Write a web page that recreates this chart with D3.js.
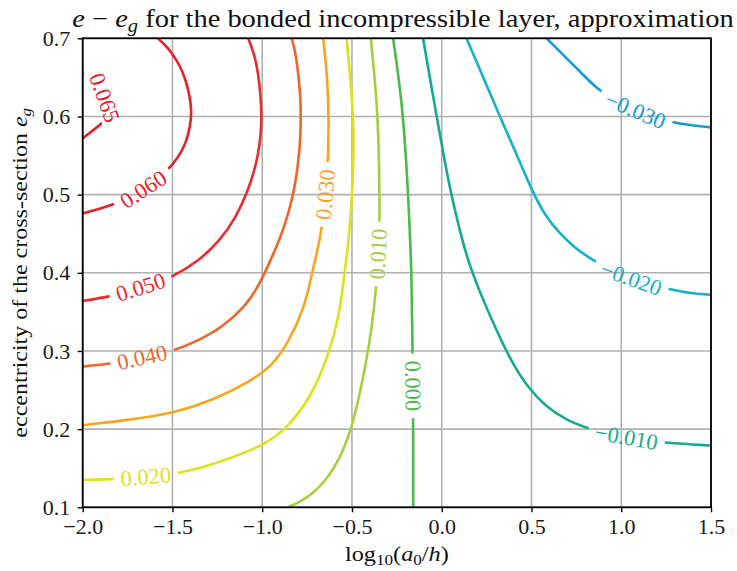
<!DOCTYPE html>
<html>
<head>
<meta charset="utf-8">
<script src="https://cdn.jsdelivr.net/npm/d3@7"></script>
<style>
  body { margin: 0; background: #fff; }
  svg { display: block; }
  text { font-family: "Liberation Serif", "DejaVu Serif", serif; }
</style>
</head>
<body>
<svg id="chart" width="737" height="571"></svg>
<script>
// Axis ticks
const xTicks = [-2.0, -1.5, -1.0, -0.5, 0.0, 0.5, 1.0, 1.5];
const yTicks = [0.1, 0.2, 0.3, 0.4, 0.5, 0.6, 0.7];

// Contour levels of e - e_g and their colours
const levels = [0.065, 0.060, 0.050, 0.040, 0.030, 0.020, 0.010, 0.000, -0.010, -0.020, -0.030];
const levelColors = ["#e31c1f", "#e8202a", "#ec2b2d", "#f0652a", "#f7a51f", "#dfe01c",
                     "#a5cf3d", "#4cba4a", "#14aa8e", "#14b1cb", "#0f9bd9"];

// Iso-lines as [log10(a0/h), e_g] points
const c065 = [[-2.0,0.657],[-1.948,0.649],[-1.909,0.639],[-1.876,0.624],[-1.859,0.608],[-1.870,0.598],
              [-1.898,0.590],[-1.928,0.585],[-1.965,0.578],[-2.0,0.572]];
const c060 = [[-1.581,0.700],[-1.525,0.688],[-1.477,0.672],[-1.444,0.658],[-1.421,0.642],[-1.404,0.626],
              [-1.393,0.608],[-1.400,0.589],[-1.419,0.570],[-1.453,0.553],[-1.500,0.538],[-1.558,0.525],
              [-1.625,0.512],[-1.698,0.501],[-1.770,0.493],[-1.837,0.487],[-1.915,0.481],[-2.0,0.476]];
const c050 = [[-1.078,0.700],[-1.043,0.679],[-1.022,0.655],[-1.009,0.627],[-1.003,0.600],[-1.008,0.576],
              [-1.022,0.552],[-1.046,0.529],[-1.078,0.506],[-1.145,0.471],[-1.240,0.440],[-1.360,0.414],
              [-1.504,0.394],[-1.625,0.385],[-1.737,0.377],[-1.839,0.370],[-2.0,0.364]];
const c040 = [[-0.836,0.700],[-0.812,0.679],[-0.800,0.655],[-0.787,0.627],[-0.785,0.600],[-0.787,0.570],
              [-0.800,0.540],[-0.815,0.515],[-0.839,0.489],[-0.869,0.465],[-0.904,0.442],[-0.967,0.409],
              [-1.030,0.379],[-1.096,0.357],[-1.217,0.331],[-1.365,0.312],[-1.496,0.300],[-1.625,0.294],
              [-1.737,0.288],[-1.839,0.284],[-2.0,0.280]];
const c030 = [[-0.660,0.700],[-0.636,0.647],[-0.629,0.600],[-0.633,0.542],[-0.645,0.500],[-0.666,0.459],
              [-0.693,0.428],[-0.725,0.397],[-0.762,0.357],[-0.855,0.310],[-0.948,0.280],[-1.068,0.261],
              [-1.273,0.237],[-1.496,0.220],[-1.737,0.212],[-2.0,0.205]];
const c020 = [[-0.530,0.700],[-0.499,0.625],[-0.488,0.570],[-0.499,0.497],[-0.521,0.434],[-0.540,0.404],
              [-0.567,0.348],[-0.633,0.293],[-0.725,0.242],[-0.868,0.199],[-0.999,0.179],[-1.161,0.164],
              [-1.319,0.152],[-1.458,0.144],[-1.625,0.139],[-1.820,0.136],[-2.0,0.135]];
const c010 = [[-0.395,0.700],[-0.363,0.625],[-0.350,0.561],[-0.345,0.465],[-0.353,0.423],[-0.364,0.382],
              [-0.391,0.327],[-0.428,0.276],[-0.499,0.199],[-0.595,0.148],[-0.725,0.114],[-0.855,0.100]];
const c000 = [[-0.271,0.700],[-0.224,0.625],[-0.196,0.540],[-0.178,0.455],[-0.168,0.397],[-0.164,0.327],
              [-0.161,0.255],[-0.159,0.212],[-0.159,0.100]];
const cm010 = [[-0.104,0.700],[-0.066,0.649],[-0.027,0.599],[0.012,0.548],[0.053,0.500],[0.098,0.457],
               [0.138,0.421],[0.207,0.378],[0.286,0.336],[0.374,0.292],[0.479,0.253],[0.580,0.229],
               [0.697,0.211],[0.825,0.200],[0.992,0.190],[1.252,0.182],[1.5,0.179]];
const cm020 = [[0.138,0.700],[0.229,0.651],[0.324,0.600],[0.418,0.551],[0.509,0.502],[0.574,0.474],
               [0.658,0.450],[0.741,0.432],[0.834,0.417],[1.019,0.393],[1.261,0.379],[1.381,0.374],[1.5,0.372]];
const cm030 = [[0.584,0.700],[0.655,0.684],[0.724,0.668],[0.794,0.652],[0.862,0.636],[0.963,0.620],
               [1.103,0.604],[1.288,0.592],[1.381,0.589],[1.5,0.586]];
const levelLines = [c065, c060, c050, c040, c030, c020, c010, c000, cm010, cm020, cm030];

// Where each inline level label sits
const labelAnchors = [[-1.876,0.624],[-1.667,0.508],[-1.675,0.381],[-1.667,0.289],[-0.645,0.500],
                      [-1.648,0.139],[-0.353,0.424],[-0.161,0.255],[1.029,0.188],[1.051,0.391],[1.079,0.608]];

const W = 737, H = 571;
const margin = { left: 82.7, right: 26, top: 38.3, bottom: 63.7 };
const svg = d3.select("#chart");
const x = d3.scaleLinear().domain([-2.0, 1.5]).range([margin.left, W - margin.right]);
const y = d3.scaleLinear().domain([0.1, 0.7]).range([H - margin.bottom, margin.top]);
const x0 = x.range()[0], x1 = x.range()[1], y0 = y.range()[1], y1 = y.range()[0];

const defs = svg.append("defs");
defs.append("clipPath").attr("id", "plotClip")
  .append("rect").attr("x", x0).attr("y", y0).attr("width", x1 - x0).attr("height", y1 - y0);

// Grid
const grid = svg.append("g").attr("stroke", "#b0b0b0").attr("stroke-width", 1.6);
grid.selectAll(".gx").data(xTicks).join("line")
  .attr("x1", d => x(d)).attr("x2", d => x(d)).attr("y1", y0).attr("y2", y1);
grid.selectAll(".gy").data(yTicks).join("line")
  .attr("y1", d => y(d)).attr("y2", d => y(d)).attr("x1", x0).attr("x2", x1);

// Contour lines
const line = d3.line().x(d => x(d[0])).y(d => y(d[1])).curve(d3.curveBasis);
const lineG = svg.append("g").attr("clip-path", "url(#plotClip)");
const labelG = svg.append("g");
const fmt = d3.format(".3f");
const labelSize = 22.5;

levels.forEach((lev, i) => {
  const color = levelColors[i];
  const path = lineG.append("path")
    .attr("d", line(levelLines[i]))
    .attr("fill", "none")
    .attr("stroke", color)
    .attr("stroke-width", 2.6)
    .attr("stroke-linecap", "butt");

  // locate the label on the path and take the local direction
  const node = path.node();
  const total = node.getTotalLength();
  const ax = x(labelAnchors[i][0]), ay = y(labelAnchors[i][1]);
  let best = 0, bestD = Infinity;
  for (let s = 0; s <= total; s += 0.5) {
    const p = node.getPointAtLength(s);
    const dd = (p.x - ax) ** 2 + (p.y - ay) ** 2;
    if (dd < bestD) { bestD = dd; best = s; }
  }
  const pc = node.getPointAtLength(best);
  const pa = node.getPointAtLength(Math.max(0, best - 12));
  const pb = node.getPointAtLength(Math.min(total, best + 12));
  let ang = Math.atan2(pb.y - pa.y, pb.x - pa.x) * 180 / Math.PI;
  if (ang > 90) ang -= 180;
  if (ang <= -90) ang += 180;

  const t = labelG.append("text")
    .attr("transform", `translate(${pc.x},${pc.y}) rotate(${ang})`)
    .attr("text-anchor", "middle")
    .attr("dy", "0.33em")
    .attr("font-size", labelSize)
    .attr("fill", color)
    .text(fmt(lev));
  const tw = t.node().getComputedTextLength();

  // break the line where the label sits
  const pad = 7, hh = 22;
  const mask = defs.append("mask").attr("id", "gap" + i)
    .attr("maskUnits", "userSpaceOnUse")
    .attr("x", 0).attr("y", 0).attr("width", W).attr("height", H);
  mask.append("rect").attr("x", 0).attr("y", 0).attr("width", W).attr("height", H).attr("fill", "#fff");
  mask.append("rect")
    .attr("x", -tw / 2 - pad).attr("y", -hh / 2)
    .attr("width", tw + 2 * pad).attr("height", hh)
    .attr("transform", `translate(${pc.x},${pc.y}) rotate(${ang})`)
    .attr("fill", "#000");
  path.attr("mask", `url(#gap${i})`);
});

// Frame
svg.append("rect").attr("x", x0).attr("y", y0).attr("width", x1 - x0).attr("height", y1 - y0)
  .attr("fill", "none").attr("stroke", "#000").attr("stroke-width", 1.8);

// Axes
const tickFmt = d3.format(".1f");
const xAxis = svg.append("g").attr("transform", `translate(0,${y1})`)
  .call(d3.axisBottom(x).tickValues(xTicks).tickFormat(tickFmt).tickSize(5).tickSizeOuter(0).tickPadding(6));
const yAxis = svg.append("g").attr("transform", `translate(${x0},0)`)
  .call(d3.axisLeft(y).tickValues(yTicks).tickFormat(tickFmt).tickSize(5).tickSizeOuter(0).tickPadding(7.5));
[xAxis, yAxis].forEach(a => {
  a.select(".domain").remove();
  a.selectAll(".tick line").attr("stroke", "#000").attr("stroke-width", 1.4);
  a.selectAll(".tick text").attr("font-size", 22).attr("fill", "#1a1a1a")
    .style("font-family", '"Liberation Serif", "DejaVu Serif", serif');
});

// Widen a text horizontally (along its own direction) to a given length
function stretch(sel, baseTransform, target) {
  const w = sel.node().getComputedTextLength();
  sel.attr("transform", `${baseTransform} scale(${target / w},1)`);
}

// Title
const title = svg.append("text").attr("text-anchor", "middle").attr("font-size", 25).attr("fill", "#111");
title.append("tspan").attr("font-style", "italic").text("e");
title.append("tspan").text(" \u2212 ");
title.append("tspan").attr("font-style", "italic").text("e");
title.append("tspan").attr("font-style", "italic").attr("font-size", 18).attr("dy", 5).text("g");
title.append("tspan").attr("dy", -5).text(" for the bonded incompressible layer, approximation");
stretch(title, `translate(403,27)`, 662);

// X axis label: log10(a0/h)
const xl = svg.append("text").attr("text-anchor", "middle").attr("font-size", 22).attr("fill", "#111");
xl.append("tspan").text("log");
xl.append("tspan").attr("font-size", 15.5).attr("dy", 4).text("10");
xl.append("tspan").attr("dy", -4).text("(");
xl.append("tspan").attr("font-style", "italic").text("a");
xl.append("tspan").attr("font-size", 15.5).attr("dy", 4).text("0");
xl.append("tspan").attr("dy", -4).text("/");
xl.append("tspan").attr("font-style", "italic").text("h");
xl.append("tspan").text(")");
stretch(xl, `translate(${(x0 + x1) / 2},561)`, 104);

// Y axis label
const yl = svg.append("text").attr("text-anchor", "middle").attr("font-size", 22).attr("fill", "#111");
yl.append("tspan").text("eccentricity of the cross-section ");
yl.append("tspan").attr("font-style", "italic").text("e");
yl.append("tspan").attr("font-style", "italic").attr("font-size", 15.5).attr("dy", 4).text("g");
stretch(yl, `translate(27,${(y0 + y1) / 2}) rotate(-90)`, 330);
</script>
</body>
</html>
